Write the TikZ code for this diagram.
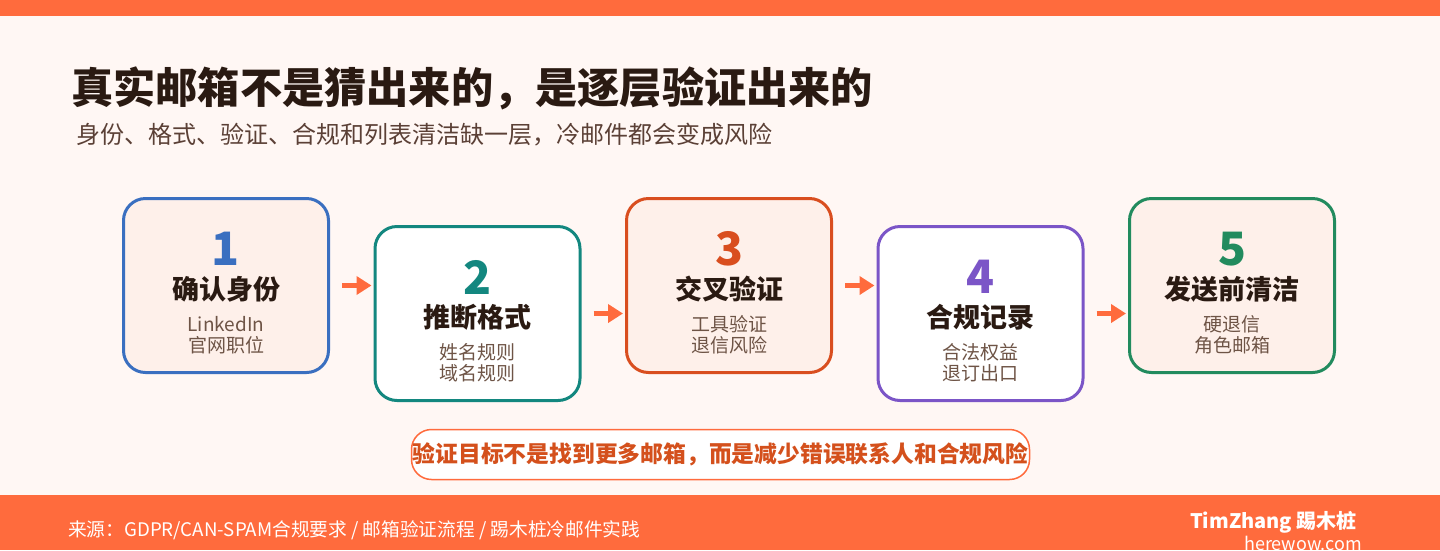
\documentclass[tikz,border=0pt]{standalone}
\usepackage{fontspec}
\setmainfont{Noto Sans CJK SC}
\usepackage{xcolor}
\usepackage{tikz}
\usetikzlibrary{arrows.meta,positioning}

\definecolor{brandorange}{HTML}{FF6B3D}
\definecolor{pagebg}{HTML}{FFF7F4}
\definecolor{cardfill}{HTML}{FEF0EA}
\definecolor{inkdark}{HTML}{2A1A12}
\definecolor{inksub}{HTML}{5B4036}
\definecolor{inksoft}{HTML}{6E5446}
\definecolor{alertred}{HTML}{D4501C}
\definecolor{stepblue}{HTML}{3A6FC0}
\definecolor{stepteal}{HTML}{13877F}
\definecolor{steprust}{HTML}{D94E1F}
\definecolor{steppurple}{HTML}{7B55C7}
\definecolor{stepgreen}{HTML}{228B5E}

\begin{document}
\begin{tikzpicture}[
    x=1pt, y=-1pt,
    node distance=43.5pt,
    card/.style={draw, line width=3pt, rounded corners=22pt, minimum width=205pt, minimum height=174pt, inner sep=0pt},
    num/.style={font=\bfseries\fontsize{46}{46}\selectfont, inner sep=0pt},
    head/.style={font=\bfseries\fontsize{27}{27}\selectfont, text=inkdark, inner sep=0pt},
    note/.style={font=\fontsize{19}{21}\selectfont, text=inksoft, align=center, inner sep=0pt},
    ar/.style={-{Triangle[length=15pt, width=18pt]}, line width=4.5pt, draw=brandorange, shorten >=2pt}
  ]
    % page
    \useasboundingbox (0,0) rectangle (1440,550);
    \fill[pagebg] (0,0) rectangle (1440,550);
    \fill[brandorange] (0,0) rectangle (1440,16);
    \fill[brandorange] (0,495) rectangle (1440,550);

    % heading
    \node[anchor=west, inner sep=0pt, text=inkdark, font=\bfseries\fontsize{42.2}{42.2}\selectfont] (title) at (71,88) {真实邮箱不是猜出来的，是逐层验证出来的};
    \node[anchor=west, inner sep=0pt, text=inksub, font=\fontsize{24}{24}\selectfont] (subtitle) at (76,135) {身份、格式、验证、合规和列表清洁缺一层，冷邮件都会变成风险};

    % cards
    \node[card, draw=stepblue, fill=cardfill] (b1) at (226,285.5) {};
    \node[card, draw=stepteal, fill=white, right=of b1, yshift=-28pt] (b2) {};
    \node[card, draw=steprust, fill=cardfill, right=of b2, yshift=28pt] (b3) {};
    \node[card, draw=steppurple, fill=white, right=of b3, yshift=-28pt] (b4) {};
    \node[card, draw=stepgreen, fill=cardfill, right=of b4, yshift=28pt] (b5) {};

    \node[num, text=stepblue] (n1) at ([yshift=-52pt]b1.north) {1};
    \node[head] (h1) at ([yshift=-92pt]b1.north) {确认身份};
    \node[note] (s1) at ([yshift=-138pt]b1.north) {LinkedIn\\官网职位};

    \node[num, text=stepteal] (n2) at ([yshift=-52pt]b2.north) {2};
    \node[head] (h2) at ([yshift=-92pt]b2.north) {推断格式};
    \node[note] (s2) at ([yshift=-138pt]b2.north) {姓名规则\\域名规则};

    \node[num, text=steprust] (n3) at ([yshift=-52pt]b3.north) {3};
    \node[head] (h3) at ([yshift=-92pt]b3.north) {交叉验证};
    \node[note] (s3) at ([yshift=-138pt]b3.north) {工具验证\\退信风险};

    \node[num, text=steppurple] (n4) at ([yshift=-52pt]b4.north) {4};
    \node[head] (h4) at ([yshift=-92pt]b4.north) {合规记录};
    \node[note] (s4) at ([yshift=-138pt]b4.north) {合法权益\\退订出口};

    \node[num, text=stepgreen] (n5) at ([yshift=-52pt]b5.north) {5};
    \node[head] (h5) at ([yshift=-92pt]b5.north) {发送前清洁};
    \node[note] (s5) at ([yshift=-138pt]b5.north) {硬退信\\角色邮箱};

    \draw[ar] ([xshift=12pt]b1.east) -- (b1.east -| b2.west);
    \draw[ar] ([xshift=12pt]b2.east) -- (b2.east -| b3.west);
    \draw[ar] ([xshift=12pt]b3.east) -- (b3.east -| b4.west);
    \draw[ar] ([xshift=12pt]b4.east) -- (b4.east -| b5.west);

    % callout
    \node[draw=brandorange, line width=1.5pt, fill=white, rounded corners=20pt, minimum width=618pt, minimum height=50pt, inner sep=0pt,
      text=alertred, font=\bfseries\fontsize{22.8}{22.8}\selectfont] (goal) at (720.5,454.5) {验证目标不是找到更多邮箱，而是减少错误联系人和合规风险};

    % footer
    \node[anchor=west, inner sep=0pt, text=white, font=\fontsize{18.7}{18.7}\selectfont] (source) at (68,530) {来源：GDPR/CAN-SPAM合规要求 / 邮箱验证流程 / 踢木桩冷邮件实践};
    \node[anchor=east, inner sep=0pt, text=white, font=\bfseries\fontsize{20}{20}\selectfont] (brand) at (1357,522) {TimZhang 踢木桩};
    \node[anchor=east, inner sep=0pt, text=white, font=\fontsize{18}{18}\selectfont] (site) at (1362,543) {herewow.com};
\end{tikzpicture}
\end{document}
